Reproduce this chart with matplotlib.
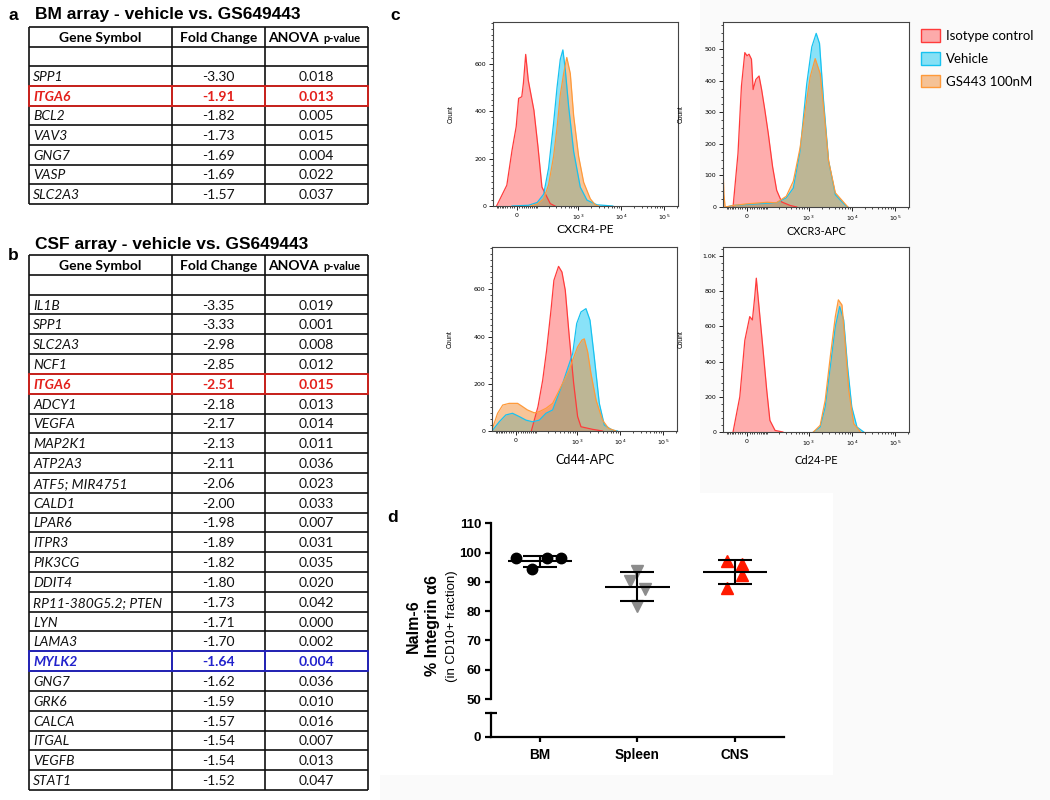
import numpy as np
import matplotlib
matplotlib.use("Agg")
import matplotlib.pyplot as plt
from matplotlib.patches import Rectangle, Patch
from matplotlib.ticker import AutoMinorLocator

# ---------------- data ----------------
bm_genes = ["SPP1", "ITGA6", "BCL2", "VAV3", "GNG7", "VASP", "SLC2A3"]
bm_fold = [-3.30, -1.91, -1.82, -1.73, -1.69, -1.69, -1.57]
bm_pval = [0.018, 0.013, 0.005, 0.015, 0.004, 0.022, 0.037]

csf_genes = ["IL1B", "SPP1", "SLC2A3", "NCF1", "ITGA6", "ADCY1", "VEGFA", "MAP2K1",
             "ATP2A3", "ATF5; MIR4751", "CALD1", "LPAR6", "ITPR3", "PIK3CG", "DDIT4",
             "RP11-380G5.2; PTEN", "LYN", "LAMA3", "MYLK2", "GNG7", "GRK6", "CALCA",
             "ITGAL", "VEGFB", "STAT1"]
csf_fold = [-3.35, -3.33, -2.98, -2.85, -2.51, -2.18, -2.17, -2.13, -2.11, -2.06, -2.00,
            -1.98, -1.89, -1.82, -1.80, -1.73, -1.71, -1.70, -1.64, -1.62, -1.59, -1.57,
            -1.54, -1.54, -1.52]
csf_pval = [0.019, 0.001, 0.008, 0.012, 0.015, 0.013, 0.014, 0.011, 0.036, 0.023, 0.033,
            0.007, 0.031, 0.035, 0.020, 0.042, 0.000, 0.002, 0.004, 0.036, 0.010, 0.016,
            0.007, 0.013, 0.047]

# flow histograms (fluorescence intensity, count)
cxcr4_iso_x = [-100, -43, -20, -3, 7, 20, 27, 37, 49, 79, 105, 135, 220, 287]
cxcr4_iso_y = [0, 88, 236, 335, 455, 462, 520, 641, 532, 405, 250, 80, 10, 0]
cxcr4_veh_x = [-20, 50, 100, 150, 200, 265, 320, 383, 441, 500, 603, 790, 1125, 1610, 2760, 6400]
cxcr4_veh_y = [0, 3, 15, 50, 160, 350, 500, 620, 660, 580, 420, 230, 80, 25, 5, 0]
cxcr4_gs_x = [60, 100, 150, 200, 265, 320, 383, 460, 545, 658, 790, 1030, 1350, 1930, 2510, 3000]
cxcr4_gs_y = [0, 8, 30, 90, 210, 330, 470, 560, 628, 560, 380, 210, 100, 30, 5, 0]

cxcr3_iso_x = [-62, -38, -23, -9, 0, 8, 18, 25, 37, 52, 65, 83, 105, 138, 176, 234, 370, 532]
cxcr3_iso_y = [0, 170, 383, 489, 479, 484, 468, 372, 404, 415, 372, 308, 234, 128, 53, 16, 5, 0]
cxcr3_veh_x = [-100, -59, 0, 100, 172, 302, 443, 638, 909, 1190, 1505, 1796, 2225, 2910, 4165, 7120, 8100]
cxcr3_veh_y = [0, 5, 8, 12, 13, 29, 60, 178, 390, 507, 550, 518, 337, 146, 39, 5, 0]
cxcr3_gs_x = [-126, -119, -110, -59, 0, 100, 172, 302, 443, 638, 834, 1091, 1427, 1862, 2225, 2910, 4165, 8100]
cxcr3_gs_y = [130, 40, 0, 5, 10, 15, 13, 34, 82, 188, 305, 412, 470, 422, 316, 146, 45, 0]

cd44_iso_x = [70, 112, 150, 189, 242, 285, 368, 443, 530, 658, 834, 1030, 1233, 2300, 3900]
cd44_iso_y = [0, 103, 215, 342, 511, 638, 697, 673, 596, 399, 201, 61, 18, 7, 0]
cd44_veh_x = [-126, -119, -77, -43, -14, 14, 43, 77, 122, 182, 265, 350, 460, 603, 790, 980,
              1233, 1610, 2000, 2510, 3290, 4300, 6600, 8700]
cd44_veh_y = [0, 5, 39, 68, 75, 61, 46, 39, 46, 75, 89, 145, 201, 265, 328, 455,
              504, 518, 469, 314, 117, 25, 4, 0]
cd44_gs_x = [-126, -87, -58, -28, 7, 28, 50, 87, 122, 182, 265, 350, 500, 658, 790, 1030,
             1300, 1475, 1763, 2100, 2760, 3900, 5400, 8000]
cd44_gs_y = [5, 75, 110, 117, 117, 103, 89, 77, 82, 96, 117, 159, 215, 258, 300, 356,
             385, 390, 335, 244, 131, 46, 11, 0]

cd24_iso_x = [-62, -30, -9, 11, 22, 32, 39, 57, 73, 95, 117, 160, 250]
cd24_iso_y = [0, 200, 520, 655, 636, 768, 873, 645, 465, 237, 66, 9, 0]
cd24_veh_x = [1300, 1862, 2430, 3185, 4165, 5245, 6500, 8000, 10000, 13200, 18900]
cd24_veh_y = [0, 28, 142, 370, 598, 712, 636, 370, 142, 28, 0]
cd24_gs_x = [1300, 1862, 2430, 3185, 4165, 4900, 5930, 7120, 8500, 11100, 16000]
cd24_gs_y = [0, 38, 180, 427, 655, 750, 721, 484, 237, 47, 0]

legend_labels = ["Isotype control", "Vehicle", "GS443 100nM"]

# panel d
groups = ["BM", "Spleen", "CNS"]
bm_vals = [98.0, 94.3, 98.0, 98.0]
spleen_vals = [93.7, 90.4, 87.5, 81.8]
cns_vals = [97.25, 96.0, 92.4, 87.8]

# ---------------- figure ----------------
W, H = 1050, 800
fig = plt.figure(figsize=(W / 100, H / 100), dpi=100, facecolor="#fafafa")


def box(x0, y0, x1, y1):
    return [x0 / W, 1 - y1 / H, (x1 - x0) / W, (y1 - y0) / H]


# white background zones
for (x0, y0, x1, y1) in [(0, 0, 700, 493), (0, 480, 380, 800), (380, 493, 833, 775)]:
    fig.patches.append(Rectangle((x0 / W, 1 - y1 / H), (x1 - x0) / W, (y1 - y0) / H,
                                 transform=fig.transFigure, facecolor="white",
                                 edgecolor="none", zorder=-10))

ARIAL = ["Liberation Sans", "DejaVu Sans"]
TFONT = ["Lato", "DejaVu Sans"]
RED = "#e3201b"
BLUE = "#2222cc"

# ---------------- tables ----------------
def draw_table(rect, genes, folds, pvals, highlights):
    ax = fig.add_axes(box(*rect))
    ax.set_axis_off()
    n = len(genes) + 2
    ax.set_xlim(0, 1)
    ax.set_ylim(n, 0)
    cols = [0, 0.4218, 0.696, 1]
    lw = 1.2
    ax.hlines(np.arange(n + 1), 0, 1, color="#111111", lw=lw, clip_on=False)
    ax.vlines(cols, 0, n, color="#111111", lw=lw, clip_on=False)
    fs = 10
    ax.text(0.211, 0.55, "Gene Symbol", ha="center", va="center", fontsize=fs,
            weight="bold", family=TFONT)
    ax.text(0.559, 0.55, "Fold Change", ha="center", va="center", fontsize=fs,
            weight="bold", family=TFONT)
    ax.text(0.855, 0.55, "ANOVA", ha="right", va="center", fontsize=fs,
            weight="bold", family=TFONT)
    ax.text(0.868, 0.6, "p-value", ha="left", va="center", fontsize=8,
            weight="bold", family=TFONT)
    for i, (g, f, p) in enumerate(zip(genes, folds, pvals)):
        y = i + 2.55
        c = highlights.get(g, "#111111")
        w = "bold" if g in highlights else "normal"
        ax.text(0.012, y, g, ha="left", va="center", fontsize=fs, style="italic",
                weight=w, color=c, family=TFONT)
        ax.text(0.559, y, f"{f:.2f}", ha="center", va="center", fontsize=fs,
                weight=w, color=c, family=TFONT)
        ax.text(0.848, y, f"{p:.3f}", ha="center", va="center", fontsize=fs,
                weight=w, color=c, family=TFONT)
        if g in highlights:
            ax.add_patch(Rectangle((0, i + 2), 1, 1, fill=False, ec=c, lw=lw,
                                   zorder=3, clip_on=False))
            ax.vlines(cols[1:3], i + 2, i + 3, color=c, lw=lw, zorder=3, clip_on=False)


draw_table((29, 27, 368, 204), bm_genes, bm_fold, bm_pval, {"ITGA6": RED})
draw_table((29, 255, 368, 790), csf_genes, csf_fold, csf_pval, {"ITGA6": RED, "MYLK2": BLUE})

fig.text(35 / W, 1 - 14 / H, "BM array - vehicle vs. GS649443", ha="left", va="center",
         fontsize=12.5, weight="bold", family=ARIAL)
fig.text(35 / W, 1 - 245 / H, "CSF array - vehicle vs. GS649443", ha="left", va="center",
         fontsize=12.5, weight="bold", family=ARIAL)
for lab, (px, py) in {"a": (13, 15), "b": (13, 256), "c": (395, 15), "d": (393, 517)}.items():
    fig.text(px / W, 1 - py / H, lab, ha="center", va="center", fontsize=12.5,
             weight="bold", family=ARIAL)

# ---------------- flow panels ----------------
CB = 76.0


def fwd(x):
    return np.arcsinh(np.asarray(x, dtype=float) / CB)


def inv(u):
    return CB * np.sinh(np.asarray(u, dtype=float))


ISO = ("#ff3b3b", (1.0, 0.36, 0.36, 0.5))
VEH = ("#17c2f0", (0.08, 0.78, 0.95, 0.5))
GS = ("#ff9a3a", (0.95, 0.55, 0.20, 0.5))

minor_x = ([-v for v in range(10, 101, 10)] + list(range(10, 100, 10)) +
           list(range(100, 1000, 100)) + list(range(2000, 10000, 1000)) +
           list(range(20000, 100000, 10000)) + [200000])


def flow_panel(rect, curves, ymax, yticks, ylabels, nminor, xlabel, xfs, label_gap):
    ax = fig.add_axes(box(*rect))
    ax.set_xscale("function", functions=(fwd, inv))
    ax.set_xlim(-126, 2.1e5)
    ax.set_ylim(0, ymax)
    for (xs, ys), (lc, fc) in zip(curves, (ISO, VEH, GS)):
        ax.fill_between(xs, ys, 0, color=fc, lw=0)
        ax.plot(xs, ys, color=lc, lw=0.9)
    ax.set_xticks([0, 1e3, 1e4, 1e5])
    ax.set_xticklabels(["0", r"$10^3$", r"$10^4$", r"$10^5$"])
    ax.set_xticks(minor_x, minor=True)
    ax.set_yticks(yticks)
    ax.set_yticklabels(ylabels)
    ax.yaxis.set_minor_locator(AutoMinorLocator(nminor))
    ax.tick_params(which="major", length=3, width=0.6, labelsize=4.5, pad=2)
    ax.tick_params(which="minor", length=1.5, width=0.5)
    for s in ax.spines.values():
        s.set_color("#444444")
        s.set_linewidth(0.8)
    ax.set_ylabel("Count", fontsize=4.8, family=ARIAL)
    ax.yaxis.set_label_coords(-38.5 / (rect[2] - rect[0]), 0.5)
    ax.set_xlabel(xlabel, fontsize=xfs, family=TFONT)
    ax.xaxis.set_label_coords(0.5, -label_gap / (rect[3] - rect[1]))
    return ax


flow_panel((493, 22, 678, 206),
           [(cxcr4_iso_x, cxcr4_iso_y), (cxcr4_veh_x, cxcr4_veh_y), (cxcr4_gs_x, cxcr4_gs_y)],
           778, [0, 200, 400, 600], ["0", "200", "400", "600"], 8, "CXCR4-PE", 8.7, 18)
flow_panel((723, 22, 909, 207),
           [(cxcr3_iso_x, cxcr3_iso_y), (cxcr3_veh_x, cxcr3_veh_y), (cxcr3_gs_x, cxcr3_gs_y)],
           586, [0, 100, 200, 300, 400, 500], ["0", "100", "200", "300", "400", "500"], 4,
           "CXCR3-APC", 7.8, 19)
flow_panel((492, 247, 677, 431),
           [(cd44_iso_x, cd44_iso_y), (cd44_veh_x, cd44_veh_y), (cd44_gs_x, cd44_gs_y)],
           779, [0, 200, 400, 600], ["0", "200", "400", "600"], 8, "Cd44-APC", 9, 23)
flow_panel((723, 247, 909, 432),
           [(cd24_iso_x, cd24_iso_y), (cd24_veh_x, cd24_veh_y), (cd24_gs_x, cd24_gs_y)],
           1050, [0, 200, 400, 600, 800, 1000], ["0", "200", "400", "600", "800", "1.0K"], 5,
           "Cd24-PE", 8, 23)

handles = [Patch(facecolor=fc, edgecolor=lc, lw=1.0) for (lc, fc) in (ISO, VEH, GS)]
fig.legend(handles, legend_labels, loc="upper left", bbox_to_anchor=(916 / W, 1 - 24 / H),
           frameon=False, prop={"family": TFONT, "size": 9.5}, handlelength=1.4,
           handleheight=1.1, handletextpad=0.5, labelspacing=0.75, borderaxespad=0)

# ---------------- panel d ----------------
spread = [[-0.24, -0.08, 0.07, 0.22], [0.0, -0.08, 0.08, 0.0], [-0.08, 0.07, 0.07, -0.08]]
markers = [("o", "black", 7.5), ("v", "#8c8c8c", 8.5), ("^", "#ff1a00", 8.5)]
all_vals = [bm_vals, spleen_vals, cns_vals]

axu = fig.add_axes(box(491, 523.3, 784, 699))
axl = fig.add_axes(box(491, 713.3, 784, 736.7))
for ax in (axu, axl):
    ax.set_facecolor("none")
    ax.set_xlim(-0.5, 2.5)
    for s in ("top", "right"):
        ax.spines[s].set_visible(False)
    for s in ("left", "bottom"):
        ax.spines[s].set_linewidth(1.6)
axu.spines["bottom"].set_visible(False)
axu.set_xticks([])
axu.set_ylim(50, 110)
axu.set_yticks(np.arange(50, 111, 10))
axl.set_ylim(0, 8)
axl.set_yticks([0])
axl.set_yticks([8], minor=True)
axl.tick_params(axis="y", which="minor", direction="inout", length=8, width=1.6)
axl.set_xticks(range(len(groups)))
axl.set_xticklabels(groups)
for ax in (axu, axl):
    ax.tick_params(axis="both", which="major", length=4.5, width=1.6, pad=2.5,
                   labelsize=9.5)
    for t in ax.get_yticklabels() + ax.get_xticklabels():
        t.set_fontweight("bold")
        t.set_family(ARIAL)
axl.tick_params(axis="x", length=3.5, pad=4.5, labelsize=9.8)

for i, (vals, off, (mk, col, ms)) in enumerate(zip(all_vals, spread, markers)):
    axu.plot(np.array(off) + i, vals, ls="none", marker=mk, color=col, ms=ms,
             mec=col, zorder=2, clip_on=False)
    m = np.mean(vals)
    sd = np.std(vals, ddof=1)
    axu.hlines(m, i - 0.33, i + 0.33, color="black", lw=1.5, zorder=3)
    axu.errorbar(i, m, yerr=sd, fmt="none", ecolor="black", elinewidth=1.5,
                 capsize=12, capthick=1.5, zorder=3)

fig.text(413 / W, 1 - 626 / H, "Nalm-6", rotation=90, ha="center", va="center",
         fontsize=11.5, weight="bold", family=ARIAL)
fig.text(433 / W, 1 - 626 / H, "% Integrin \u03b16", rotation=90, ha="center", va="center",
         fontsize=11.5, weight="bold", family=ARIAL)
fig.text(452 / W, 1 - 626 / H, "(in CD10+ fraction)", rotation=90, ha="center",
         va="center", fontsize=9.5, family=ARIAL)

fig.savefig("out.png", dpi=100, facecolor=fig.get_facecolor())
